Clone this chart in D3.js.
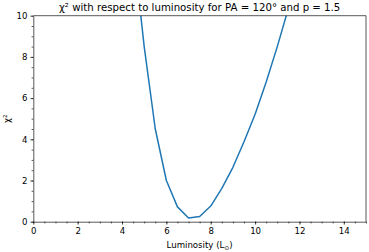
<!DOCTYPE html>
<html>
<head>
<meta charset="utf-8">
<script src="https://cdn.jsdelivr.net/npm/d3@7"></script>
<style>
  body { margin: 0; background: #fff; }
  svg text { font-family: "DejaVu Sans", sans-serif; fill: #000; }
</style>
</head>
<body>
<div id="chart"></div>
<script>
var luminosity = [4.5, 5, 5.5, 6, 6.5, 7, 7.5, 8, 8.5, 9, 9.5, 10, 10.5, 11, 11.5];
var chi2 = [13.4, 8.5, 4.5, 2.0, 0.72, 0.18, 0.25, 0.76, 1.62, 2.64, 3.88, 5.22, 6.78, 8.5, 10.35];
var xTicks = [0, 2, 4, 6, 8, 10, 12, 14];
var yTicks = [0, 2, 4, 6, 8, 10];

var model = {
  width: 369,
  height: 252,
  margin: { top: 15.7, left: 33.3, right: 3, bottom: 30.3 },
  tickFont: 8.6,
  titleFont: 10.2,
};

var width = model.width - model.margin.left - model.margin.right;
var height = model.height - model.margin.top - model.margin.bottom;

var svg = d3.select('#chart').append('svg')
  .attr('width', model.width)
  .attr('height', model.height);

var g = svg.append('g')
  .attr('transform', 'translate(' + model.margin.left + ',' + model.margin.top + ')');

var x = d3.scaleLinear().domain([0, 15]).range([0, width]);
var y = d3.scaleLinear().domain([0, 10]).range([height, 0]);

svg.append('defs').append('clipPath').attr('id', 'plot-clip')
  .append('rect').attr('width', width).attr('height', height);

g.append('path')
  .datum(luminosity.map(function (l, i) { return [l, chi2[i]]; }))
  .attr('clip-path', 'url(#plot-clip)')
  .attr('fill', 'none')
  .attr('stroke', '#1f77b4')
  .attr('stroke-width', 1.5)
  .attr('stroke-linejoin', 'round')
  .attr('d', d3.line()
    .x(function (d) { return x(d[0]); })
    .y(function (d) { return y(d[1]); }));

// minor ticks
g.append('g')
  .attr('transform', 'translate(0,' + height + ')')
  .call(d3.axisBottom(x).tickValues(d3.range(0, 15.01, 0.5)).tickSize(1.7).tickFormat(''))
  .call(function (a) { a.select('.domain').remove(); });
g.append('g')
  .call(d3.axisLeft(y).tickValues(d3.range(0, 10.01, 0.5)).tickSize(1.7).tickFormat(''))
  .call(function (a) { a.select('.domain').remove(); });

var xAxis = g.append('g')
  .attr('transform', 'translate(0,' + height + ')')
  .call(d3.axisBottom(x).tickValues(xTicks).tickSize(2.9).tickPadding(2.9).tickSizeOuter(0));
var yAxis = g.append('g')
  .call(d3.axisLeft(y).tickValues(yTicks).tickSize(2.9).tickPadding(2.9).tickSizeOuter(0));

[xAxis, yAxis].forEach(function (a) {
  a.selectAll('text').style('font-size', model.tickFont + 'px').attr('font-family', null);
});
g.selectAll('.tick line').attr('stroke', '#000').attr('stroke-width', 0.66);
g.selectAll('.domain').attr('stroke', '#000').attr('stroke-width', 0.66);

// top and right spines
g.append('line').attr('x1', 0).attr('x2', width).attr('y1', 0).attr('y2', 0)
  .attr('stroke', '#000').attr('stroke-width', 0.66);
g.append('line').attr('x1', width).attr('x2', width).attr('y1', 0).attr('y2', height)
  .attr('stroke', '#000').attr('stroke-width', 0.66);

svg.append('text')
  .attr('x', model.margin.left + width / 2)
  .attr('y', model.margin.top - 4.5)
  .attr('text-anchor', 'middle')
  .style('font-size', model.titleFont + 'px')
  .text('χ² with respect to luminosity for PA = 120° and p = 1.5');

var xLabel = svg.append('text')
  .attr('x', model.margin.left + width / 2)
  .attr('y', model.height - 4)
  .attr('text-anchor', 'middle')
  .style('font-size', model.tickFont + 'px');
xLabel.append('tspan').text('Luminosity (L');
xLabel.append('tspan').attr('dy', 1.8).style('font-size', '6px').text('⊙');
xLabel.append('tspan').attr('dy', -1.8).text(')');

svg.append('text')
  .attr('transform', 'translate(10,' + (model.margin.top + height / 2) + ') rotate(-90)')
  .attr('text-anchor', 'middle')
  .style('font-size', model.tickFont + 'px')
  .text('χ²');
</script>
</body>
</html>
